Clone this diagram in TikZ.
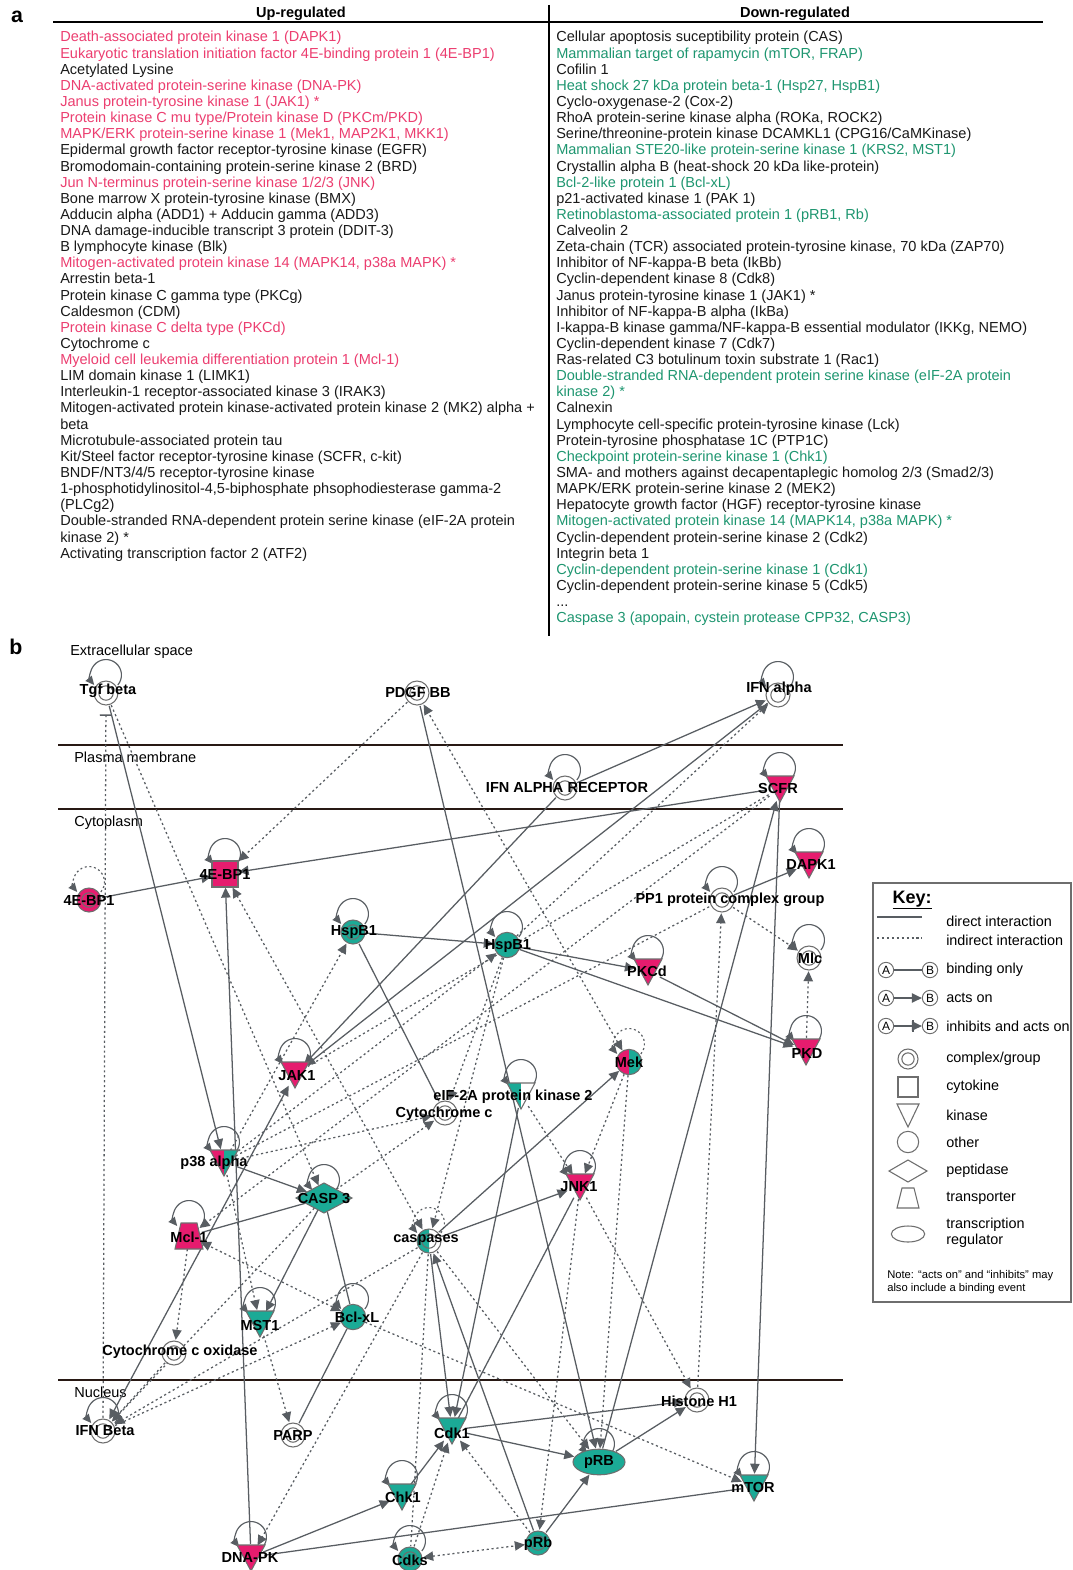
\documentclass[tikz,border=0pt]{standalone}
\usepackage{fontspec}
\setmainfont{Liberation Sans}
\usetikzlibrary{arrows.meta,shapes.geometric}
\definecolor{pk}{RGB}{230,28,110}
\definecolor{tl}{RGB}{27,170,150}
\definecolor{cp}{RGB}{236,62,112}
\definecolor{cg}{RGB}{30,150,112}
\definecolor{ck}{RGB}{25,25,25}
\definecolor{lc}{RGB}{88,93,98}
\definecolor{glc}{RGB}{110,110,110}
\definecolor{memc}{RGB}{40,25,20}
\newcommand\sloop[3]{\draw[#3] ([shift={(0,#2)}]#1.center) ++(-40:11.6pt) arc[start angle=-40,end angle=220,radius=11.6pt];}
\newcommand\gdbl[2]{\fill[#2] (#1.center) circle[radius=9pt]; \draw[gl] (#1.center) circle[radius=9pt] (#1.center) circle[radius=5.4pt];}
\newcommand\gcirc[2]{\filldraw[gl,fill=#2] (#1.center) circle[radius=9.5pt];}
\newcommand\gkin[2]{\filldraw[gl,fill=#2] ([shift={(-14,-12)}]#1.center) -- ([shift={(14,-12)}]#1.center) -- ([shift={(0,14)}]#1.center) -- cycle;}
\newcommand\gkinh[3]{\fill[#2] ([shift={(-14,-12)}]#1.center) -- ([shift={(0,-12)}]#1.center) -- ([shift={(0,14)}]#1.center) -- cycle;
 \fill[#3] ([shift={(0,-12)}]#1.center) -- ([shift={(14,-12)}]#1.center) -- ([shift={(0,14)}]#1.center) -- cycle;
 \draw[gl] ([shift={(-14,-12)}]#1.center) -- ([shift={(14,-12)}]#1.center) -- ([shift={(0,14)}]#1.center) -- cycle;}
\begin{document}
\begin{tikzpicture}[x=0.75pt,y=-0.75pt,
 atext/.style={font=\fontsize{10.9}{12}\selectfont, inner sep=0pt, anchor=base west},
 hdr/.style={font=\bfseries\fontsize{10.9}{12}\selectfont, inner sep=0pt, anchor=base},
 lab/.style={font=\bfseries\fontsize{10.9}{12}\selectfont, inner sep=0pt, text=black},
 panel/.style={font=\bfseries\fontsize{16}{18}\selectfont, inner sep=0pt},
 hit/.style={circle, minimum size=19.5pt, inner sep=0pt},
 hitsq/.style={rectangle, minimum size=20pt, inner sep=0pt},
 hitdia/.style={diamond, minimum width=42pt, minimum height=23pt, inner sep=0pt},
 hitell/.style={ellipse, minimum width=40pt, minimum height=20pt, inner sep=0pt},
 con/.style={draw=lc, line width=0.95pt},
 dot/.style={draw=lc, line width=0.95pt, dash pattern=on 1.6pt off 2.1pt},
 ar/.style={-{Triangle[length=7.5pt,width=7pt]}},
 ar2/.style={{Triangle[length=7.5pt,width=7pt]}-{Triangle[length=7.5pt,width=7pt]}},
 lp/.style={draw=lc, line width=0.85pt, -{Triangle[length=6.5pt,width=6pt]}},
 lpd/.style={lp, dash pattern=on 1.5pt off 2pt},
 gl/.style={draw=glc, line width=0.8pt},
 memb/.style={draw=memc, line width=1.1pt},
 kg/.style={draw=glc, line width=0.8pt, fill=white},
 ktext/.style={font=\fontsize{10.8}{12}\selectfont, inner sep=0pt, anchor=west},
 kab/.style={circle, draw=glc, line width=0.7pt, inner sep=0pt, minimum size=11.5pt, font=\fontsize{9}{10}\selectfont}
]
\useasboundingbox (0,0) rectangle (1073,1570);
\fill[white] (0,0) rectangle (1073,1570);

% ---------------- panel a ----------------
\node[panel] (pa) at (17,17) {a};
\node[hdr] (hup) at (301,18) {Up-regulated};
\node[hdr] (hdn) at (795,18) {Down-regulated};
\draw[line width=1.1pt] (53,22) -- (1043,22);
\draw[line width=1pt] (549,5) -- (549,636);

\foreach \c/\t [count=\i] in {
cp/{Death-associated protein kinase 1 (DAPK1)},
cp/{Eukaryotic translation initiation factor 4E-binding protein 1 (4E-BP1)},
ck/{Acetylated Lysine},
cp/{DNA-activated protein-serine kinase (DNA-PK)},
cp/{Janus protein-tyrosine kinase 1 (JAK1) *},
cp/{Protein kinase C mu type/Protein kinase D (PKCm/PKD)},
cp/{MAPK/ERK protein-serine kinase 1 (Mek1, MAP2K1, MKK1)},
ck/{Epidermal growth factor receptor-tyrosine kinase (EGFR)},
ck/{Bromodomain-containing protein-serine kinase 2 (BRD)},
cp/{Jun N-terminus protein-serine kinase 1/2/3 (JNK)},
ck/{Bone marrow X protein-tyrosine kinase (BMX)},
ck/{Adducin alpha (ADD1) + Adducin gamma (ADD3)},
ck/{DNA damage-inducible transcript 3 protein (DDIT-3)},
ck/{B lymphocyte kinase (Blk)},
cp/{Mitogen-activated protein kinase 14 (MAPK14, p38a MAPK) *},
ck/{Arrestin beta-1},
ck/{Protein kinase C gamma type (PKCg)},
ck/{Caldesmon (CDM)},
cp/{Protein kinase C delta type (PKCd)},
ck/{Cytochrome c},
cp/{Myeloid cell leukemia differentiation protein 1 (Mcl-1)},
ck/{LIM domain kinase 1 (LIMK1)},
ck/{Interleukin-1 receptor-associated kinase 3 (IRAK3)},
ck/{Mitogen-activated protein kinase-activated protein kinase 2 (MK2) alpha +},
ck/{beta},
ck/{Microtubule-associated protein tau},
ck/{Kit/Steel factor receptor-tyrosine kinase (SCFR, c-kit)},
ck/{BNDF/NT3/4/5 receptor-tyrosine kinase},
ck/{1-phosphotidylinositol-4,5-biphosphate phsophodiesterase gamma-2},
ck/{(PLCg2)},
ck/{Double-stranded RNA-dependent protein serine kinase (eIF-2A protein},
ck/{kinase 2) *},
ck/{Activating transcription factor 2 (ATF2)}}
{\node[atext, text=\c] (up\i) at (60,{42+16.13*(\i-1)}) {\t};}

\foreach \c/\t [count=\i] in {
ck/{Cellular apoptosis suceptibility protein (CAS)},
cg/{Mammalian target of rapamycin (mTOR, FRAP)},
ck/{Cofilin 1},
cg/{Heat shock 27 kDa protein beta-1 (Hsp27, HspB1)},
ck/{Cyclo-oxygenase-2 (Cox-2)},
ck/{RhoA protein-serine kinase alpha (ROKa, ROCK2)},
ck/{Serine/threonine-protein kinase DCAMKL1 (CPG16/CaMKinase)},
cg/{Mammalian STE20-like protein-serine kinase 1 (KRS2, MST1)},
ck/{Crystallin alpha B (heat-shock 20 kDa like-protein)},
cg/{Bcl-2-like protein 1 (Bcl-xL)},
ck/{p21-activated kinase 1 (PAK 1)},
cg/{Retinoblastoma-associated protein 1 (pRB1, Rb)},
ck/{Calveolin 2},
ck/{Zeta-chain (TCR) associated protein-tyrosine kinase, 70 kDa (ZAP70)},
ck/{Inhibitor of NF-kappa-B beta (IkBb)},
ck/{Cyclin-dependent kinase 8 (Cdk8)},
ck/{Janus protein-tyrosine kinase 1 (JAK1) *},
ck/{Inhibitor of NF-kappa-B alpha (IkBa)},
ck/{I-kappa-B kinase gamma/NF-kappa-B essential modulator (IKKg, NEMO)},
ck/{Cyclin-dependent kinase 7 (Cdk7)},
ck/{Ras-related C3 botulinum toxin substrate 1 (Rac1)},
cg/{Double-stranded RNA-dependent protein serine kinase (eIF-2A protein},
cg/{kinase 2) *},
ck/{Calnexin},
ck/{Lymphocyte cell-specific protein-tyrosine kinase (Lck)},
ck/{Protein-tyrosine phosphatase 1C (PTP1C)},
cg/{Checkpoint protein-serine kinase 1 (Chk1)},
ck/{SMA- and mothers against decapentaplegic homolog 2/3 (Smad2/3)},
ck/{MAPK/ERK protein-serine kinase 2 (MEK2)},
ck/{Hepatocyte growth factor (HGF) receptor-tyrosine kinase},
cg/{Mitogen-activated protein kinase 14 (MAPK14, p38a MAPK) *},
ck/{Cyclin-dependent protein-serine kinase 2 (Cdk2)},
ck/{Integrin beta 1},
cg/{Cyclin-dependent protein-serine kinase 1 (Cdk1)},
ck/{Cyclin-dependent protein-serine kinase 5 (Cdk5)},
ck/{...},
cg/{Caspase 3 (apopain, cystein protease CPP32, CASP3)}}
{\node[atext, text=\c] (dn\i) at (556,{42+16.13*(\i-1)}) {\t};}

% ---------------- panel b ----------------
\node[panel] (pb) at (16,647) {b};
\node[atext] (cext) at (70,655) {Extracellular space};
\node[atext] (cpla) at (74,762) {Plasma membrane};
\node[atext] (ccyt) at (74,826) {Cytoplasm};
\node[atext] (cnuc) at (74,1397) {Nucleus};
\draw[memb] (58,745) -- (843,745);
\draw[memb] (58,809) -- (843,809);
\draw[memb] (58,1380) -- (843,1380);

% hit nodes
\node[hit] (tgf) at (106,693) {};
\node[hit] (pdgf) at (417,693) {};
\node[hit] (ifna) at (778,695) {};
\node[hit] (ifnar) at (565,788) {};
\node[hit] (scfr) at (780,788) {};
\node[hit] (ebpc) at (89,900) {};
\node[hitsq] (ebps) at (225,874) {};
\node[hit] (hspl) at (353,932) {};
\node[hit] (hspr) at (507,945) {};
\node[hit] (pkcd) at (648,971) {};
\node[hit] (dapk) at (809,864) {};
\node[hit] (pp1) at (722,900) {};
\node[hit] (mlc) at (809,958) {};
\node[hit] (pkd) at (806,1051) {};
\node[hit] (mek) at (629,1062) {};
\node[hit] (jak1) at (295,1074) {};
\node[hit] (eif) at (521,1095) {};
\node[hit] (cytc) at (445,1113) {};
\node[hit] (p38) at (224,1162) {};
\node[hitdia] (casp3) at (324,1198) {};
\node[hit] (mcl1) at (189,1236) {};
\node[hit] (casps) at (429,1241) {};
\node[hit] (jnk1) at (580,1186) {};
\node[hit] (mst1) at (260,1323) {};
\node[hit] (bclxl) at (353,1317) {};
\node[hit] (cox) at (174,1353) {};
\node[hit] (ifnb) at (103,1431) {};
\node[hit] (parp) at (293,1435) {};
\node[hit] (cdk1) at (452,1430) {};
\node[hit] (hist) at (697,1400) {};
\node[hitell] (prb) at (599,1462) {};
\node[hit] (mtor) at (754,1487) {};
\node[hit] (chk1) at (402,1496) {};
\node[hit] (dnapk) at (251,1557) {};
\node[hit] (cdks) at (410,1559) {};
\node[hit] (prbs) at (538,1543) {};

% edges
\draw[con,ar] (tgf) -- (p38);
\draw[dot,ar] (tgf) -- (casp3);
\draw[dot,-{Bar[width=9pt,line width=1.2pt]},shorten >=6pt] (ifnb) -- (tgf);
\draw[con,ar] (ebpc) -- (ebps);
\draw[dot,ar] (pdgf) -- (ebps);
\draw[con,ar] (scfr) -- (ebps);
\draw[con,ar] (dnapk) -- (ebps);
\draw[dot,ar2] (casps) -- (ebps);
\draw[con,ar] (pdgf) -- (prb);
\draw[dot,ar2] (mek) -- (pdgf);
\draw[con,ar] (ifnar) -- (ifna);
\draw[con,ar] (ifna) -- (jak1);
\draw[con,ar] (ifnar) -- (jak1);
\draw[dot,ar] (hspr) -- (ifna);
\draw[dot,ar] (p38) -- (hspr);
\draw[con,ar] (prb) -- (scfr);
\draw[con,ar] (scfr) -- (mtor);
\draw[dot,ar] (scfr) -- (mcl1);
\draw[dot] (scfr) -- (jak1);
\draw[con,ar] (hspl) -- (hspr);
\draw[con,ar] (hspr) -- (pkcd);
\draw[con,ar] (hspr) -- (pkd);
\draw[con,ar] (pkcd) -- (pkd);
\draw[dot,ar] (p38) -- (hspl);
\draw[con] (hspl) -- (cytc);
\draw[con,ar] (pp1) -- (dapk);
\draw[dot,ar] (pp1) -- (mlc);
\draw[dot,ar] (pkd) -- (mlc);
\draw[dot,ar] (hist) -- (pp1);
\draw[dot] (p38) -- (pp1);
\draw[con,ar] (casps) -- (mek);
\draw[dot,ar] (mek) -- (jnk1);
\draw[dot,ar] (mek) -- (prb);
\draw[dot,ar] (eif) -- (jnk1);
\draw[con,ar] (casps) -- (jnk1);
\draw[dot,ar] (jnk1) -- (hist);
\draw[con] (jnk1) -- (cdk1);
\draw[dot,ar] (jnk1) -- (prbs);
\draw[con,ar2] (jak1) -- (ifnb);
\draw[dot,ar2] (bclxl) -- (mcl1);
\draw[dot,ar] (bclxl) -- (mtor);
\draw[con] (casp3) -- (mcl1);
\draw[con,ar] (p38) -- (casp3);
\draw[con,ar] (casp3) -- (mst1);
\draw[con] (casp3) -- (bclxl);
\draw[con] (bclxl) -- (parp);
\draw[dot,ar] (mst1) -- (parp);
\draw[dot,ar] (mcl1) -- (cox);
\draw[dot,ar] (cox) -- (ifnb);
\draw[dot,ar] (casps) -- (dnapk);
\draw[dot,ar] (casp3) -- (ifnb);
\draw[dot,ar] (ifnb) -- (bclxl);
\draw[dot,ar] (casps) -- (ifnb);
\draw[con,ar] (dnapk) -- (chk1);
\draw[con] (dnapk) -- (mtor);
\draw[con,ar] (chk1) -- (cdk1);
\draw[dot,ar2] (cdks) -- (prbs);
\draw[dot,ar] (cdks) -- (cdk1);
\draw[dot] (casps) -- (cdks);
\draw[con,ar] (prbs) -- (prb);
\draw[dot,ar] (prbs) -- (cdk1);
\draw[con,ar] (prbs) -- (casps);
\draw[con,ar] (cdk1) -- (hist);
\draw[con,ar] (cdk1) -- (prb);
\draw[con,ar] (prb) -- (hist);
\draw[con,ar] (casps) -- (cdk1);
\draw[con,ar] (eif) -- (cdk1);
\draw[dot,ar] (hspr) -- (casps);
\draw[dot,ar] (hspr) -- (cytc);
\draw[dot,ar] (p38) -- (cytc);
\draw[dot,ar] (p38) -- (mst1);
\draw[dot,ar] (casp3) -- (cytc);
\draw[dot,ar] (casps) -- (prb);

% self loops
\sloop{tgf}{-18}{lp}
\sloop{ifna}{-18}{lp}
\sloop{ifnar}{-18}{lp}
\sloop{scfr}{-20}{lp}
\sloop{ebpc}{-18}{lpd}
\sloop{ebps}{-20}{lp}
\sloop{hspl}{-18}{lp}
\sloop{hspr}{-18}{lp}
\sloop{pkcd}{-20}{lp}
\sloop{dapk}{-20}{lp}
\sloop{pp1}{-18}{lp}
\sloop{mlc}{-18}{lp}
\sloop{pkd}{-20}{lp}
\sloop{mek}{-18}{lpd}
\sloop{jak1}{-20}{lp}
\sloop{eif}{-20}{lp}
\sloop{p38}{-20}{lp}
\sloop{casp3}{-18}{lp}
\sloop{mcl1}{-20}{lp}
\sloop{casps}{-18}{lpd}
\sloop{jnk1}{-20}{lp}
\sloop{mst1}{-20}{lp}
\sloop{bclxl}{-18}{lp}
\sloop{ifnb}{-18}{lp}
\sloop{cdk1}{-20}{lp}
\sloop{prb}{-18}{lp}
\sloop{mtor}{-20}{lp}
\sloop{chk1}{-20}{lp}
\sloop{dnapk}{-20}{lp}
\sloop{cdks}{-18}{lp}

% glyphs
\gdbl{tgf}{white}
\gdbl{pdgf}{white}
\gdbl{ifna}{white}
\gdbl{ifnar}{white}
\gkin{scfr}{pk}
\gdbl{ebpc}{pk}
\filldraw[gl,fill=pk] ([shift={(-13,-13)}]ebps.center) rectangle ([shift={(13,13)}]ebps.center);
\gdbl{hspl}{tl}
\gcirc{hspr}{tl}
\gkin{pkcd}{pk}
\gkin{dapk}{pk}
\gdbl{pp1}{white}
\gdbl{mlc}{white}
\gkin{pkd}{pk}
\fill[pk] (mek.center) -- ++(90:9.5pt) arc[start angle=90,end angle=270,radius=9.5pt] -- cycle;
\fill[tl] (mek.center) -- ++(-90:9.5pt) arc[start angle=-90,end angle=90,radius=9.5pt] -- cycle;
\draw[gl] (mek.center) circle[radius=9.5pt];
\gkin{jak1}{pk}
\gkinh{eif}{tl}{white}
\gdbl{cytc}{white}
\gkinh{p38}{pk}{tl}
\filldraw[gl,fill=tl] ([shift={(-28,0)}]casp3.center) -- ([shift={(0,-15)}]casp3.center) -- ([shift={(28,0)}]casp3.center) -- ([shift={(0,15)}]casp3.center) -- cycle;
\filldraw[gl,fill=pk] ([shift={(-8,-13)}]mcl1.center) -- ([shift={(8,-13)}]mcl1.center) -- ([shift={(14,13)}]mcl1.center) -- ([shift={(-14,13)}]mcl1.center) -- cycle;
\fill[white] (casps.center) circle[radius=9pt];
\fill[tl] (casps.center) -- ++(90:9pt) arc[start angle=90,end angle=270,radius=9pt] -- cycle;
\draw[gl] (casps.center) circle[radius=9pt] (casps.center) circle[radius=5.4pt];
\gkin{jnk1}{pk}
\gkin{mst1}{tl}
\gcirc{bclxl}{tl}
\gdbl{cox}{white}
\gdbl{ifnb}{white}
\gdbl{parp}{white}
\gkin{cdk1}{tl}
\gdbl{hist}{white}
\filldraw[gl,fill=tl] (prb.center) ellipse[x radius=19.5pt, y radius=9.6pt];
\gkin{mtor}{tl}
\gkin{chk1}{tl}
\gkin{dnapk}{pk}
\gdbl{cdks}{tl}
\gdbl{prbs}{tl}

% labels
\node[lab] (tgf-t) at (108,691) {Tgf beta};
\node[lab] (pdgf-t) at (418,692) {PDGF BB};
\node[lab] (ifna-t) at (779,689) {IFN alpha};
\node[lab] (ifnar-t) at (567,787) {IFN ALPHA RECEPTOR};
\node[lab] (scfr-t) at (778,788) {SCFR};
\node[lab] (ebpc-t) at (89,900) {4E-BP1};
\node[lab] (ebps-t) at (225,874) {4E-BP1};
\node[lab] (hspl-t) at (354,932) {HspB1};
\node[lab] (hspr-t) at (508,946) {HspB1};
\node[lab] (pkcd-t) at (647,971) {PKCd};
\node[lab] (dapk-t) at (811,864) {DAPK1};
\node[lab] (pp1-t) at (730,900) {PP1 protein complex group};
\node[lab] (mlc-t) at (810,958) {Mlc};
\node[lab] (pkd-t) at (807,1053) {PKD};
\node[lab] (mek-t) at (629,1062) {Mek};
\node[lab] (jak1-t) at (297,1076) {JAK1};
\node[lab] (eif-t) at (513,1097) {eIF-2A protein kinase 2};
\node[lab] (cytc-t) at (444,1114) {Cytochrome c};
\node[lab] (p38-t) at (214,1163) {p38 alpha};
\node[lab] (casp3-t) at (324,1198) {CASP 3};
\node[lab] (mcl1-t) at (189,1237) {Mcl-1};
\node[lab] (casps-t) at (426,1240) {caspases};
\node[lab] (jnk1-t) at (579,1187) {JNK1};
\node[lab] (mst1-t) at (260,1325) {MST1};
\node[lab] (bclxl-t) at (357,1317) {Bcl-xL};
\node[lab] (cox-t) at (180,1352) {Cytochrome c oxidase};
\node[lab] (ifnb-t) at (105,1431) {IFN Beta};
\node[lab] (parp-t) at (293,1435) {PARP};
\node[lab] (cdk1-t) at (452,1433) {Cdk1};
\node[lab] (hist-t) at (699,1401) {Histone H1};
\node[lab] (prb-t) at (599,1462) {pRB};
\node[lab] (mtor-t) at (753,1487) {mTOR};
\node[lab] (chk1-t) at (403,1497) {Chk1};
\node[lab] (dnapk-t) at (250,1557) {DNA-PK};
\node[lab] (cdks-t) at (410,1560) {Cdks};
\node[lab] (prbs-t) at (538,1544) {pRb};

% ---------------- key ----------------
\draw[draw=glc, line width=0.9pt] (873,883) rectangle (1071,1302);
\node[font=\bfseries\fontsize{13.5}{15}\selectfont, inner sep=0pt] (keyt) at (912,900) {\underline{Key:}};
\draw[con] (877,917) -- (922,917);
\node[ktext] (k1) at (946,921) {direct interaction};
\draw[dot] (877,938) -- (922,938);
\node[ktext] (k2) at (946,940) {indirect interaction};
\node[kab] (ka1) at (886,970) {A};
\node[kab] (kb1) at (930,970) {B};
\draw[con] (ka1) -- (kb1);
\node[ktext] (k3) at (946,970) {binding only};
\node[kab] (ka2) at (886,998) {A};
\node[kab] (kb2) at (930,998) {B};
\draw[con,ar] (ka2) -- (kb2);
\node[ktext] (k4) at (946,998) {acts on};
\node[kab] (ka3) at (886,1026) {A};
\node[kab] (kb3) at (930,1026) {B};
\draw[con,ar] (ka3) -- (kb3);
\draw[con] (913,1020) -- (913,1032);
\node[ktext] (k5) at (946,1026) {inhibits and acts on};
\draw[kg] (908,1059) circle[radius=7.5pt] (908,1059) circle[radius=4.6pt];
\node[ktext] (k6) at (946,1059) {complex/group};
\draw[kg] (898,1077) rectangle (918,1097);
\node[ktext] (k7) at (946,1087) {cytokine};
\draw[kg] (897,1104) -- (919,1104) -- (908,1127) -- cycle;
\node[ktext] (k8) at (946,1115) {kinase};
\draw[kg] (908,1142) circle[radius=8pt];
\node[ktext] (k9) at (946,1142) {other};
\draw[kg] (889,1171) -- (908,1160) -- (927,1171) -- (908,1182) -- cycle;
\node[ktext] (k10) at (946,1171) {peptidase};
\draw[kg] (902,1188) -- (914,1188) -- (919,1208) -- (897,1208) -- cycle;
\node[ktext] (k11) at (946,1198) {transporter};
\draw[kg] (908,1234) ellipse[x radius=12.5pt, y radius=6pt];
\node[ktext, align=left, font=\fontsize{10.8}{12.2}\selectfont] (k12) at (946,1233) {transcription\\regulator};
\node[font=\fontsize{8.4}{9.8}\selectfont, inner sep=0pt, anchor=north west, align=left] (knote) at (887,1270) {Note: “acts on” and “inhibits” may\\also include a binding event};
\end{tikzpicture}
\end{document}
